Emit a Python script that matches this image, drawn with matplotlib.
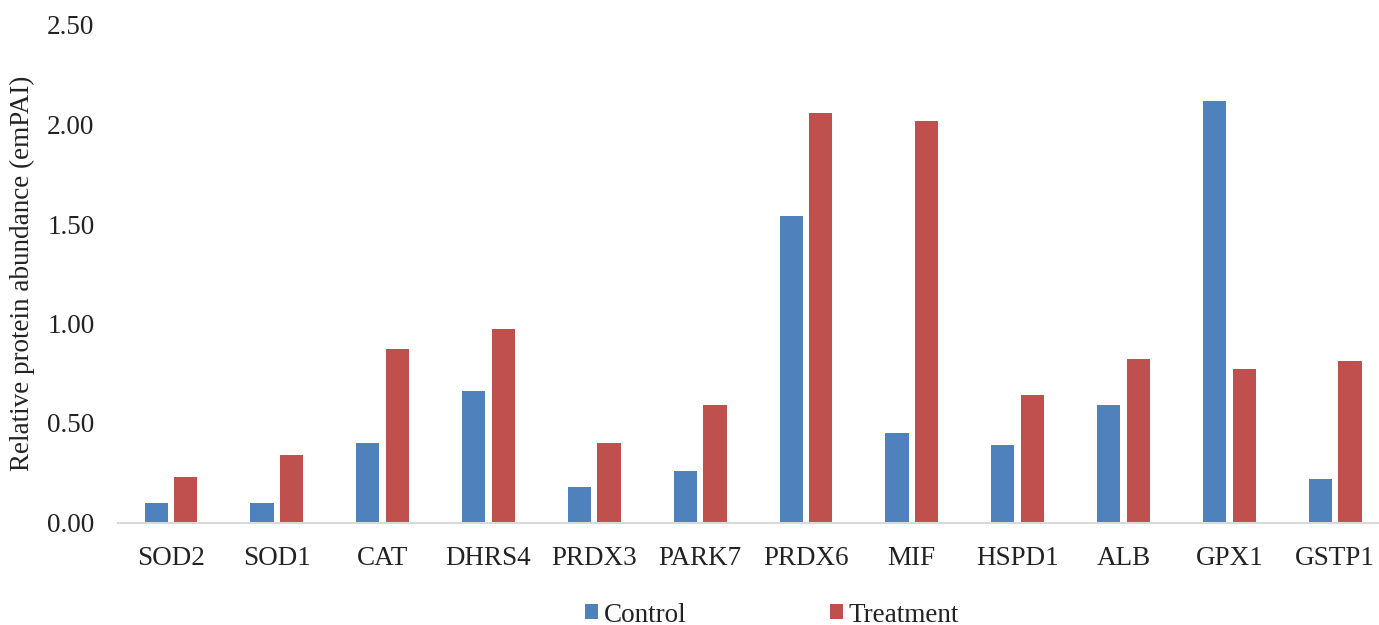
#!/usr/bin/env python3
# grouped bar chart: emPAI abundance, control vs treatment

import numpy as np
import matplotlib
matplotlib.use('Agg')
import matplotlib.pyplot as plt

plt.rcParams['font.family'] = ['Liberation Serif', 'DejaVu Serif']

proteins = ['SOD2', 'SOD1', 'CAT', 'DHRS4', 'PRDX3', 'PARK7',
            'PRDX6', 'MIF', 'HSPD1', 'ALB', 'GPX1', 'GSTP1']
control = [0.10, 0.10, 0.40, 0.66, 0.18, 0.26, 1.54, 0.45, 0.39, 0.59, 2.12, 0.22]
treatment = [0.23, 0.34, 0.87, 0.97, 0.40, 0.59, 2.06, 2.02, 0.64, 0.82, 0.77, 0.81]
yticks = [0.0, 0.5, 1.0, 1.5, 2.0, 2.5]

blue = '#4F81BD'
red = '#C0504D'
fs = 19.5

fig = plt.figure(figsize=(13.79, 6.25), dpi=100)
ax = fig.add_axes([0.0856, 0.164, 0.921, 0.796])

x = np.arange(len(proteins))
w = 0.22
ax.bar(x - 0.14, control, w, color=blue, label='Control', zorder=2)
ax.bar(x + 0.14, treatment, w, color=red, label='Treatment', zorder=2)

ax.set_xlim(-0.5, len(proteins) - 0.5)
ax.set_ylim(0, 2.5)
ax.set_yticks(yticks)
ax.set_yticklabels(['{0:.2f}'.format(v) for v in yticks])
ax.set_xticks(x)
ax.set_xticklabels(proteins)

for s in ['top', 'right', 'left']:
    ax.spines[s].set_visible(False)
ax.spines['bottom'].set_color('#D9D9D9')
ax.spines['bottom'].set_linewidth(1.5)

ax.tick_params(axis='y', length=0, pad=17, labelsize=fs, labelcolor='#222222')
ax.tick_params(axis='x', length=0, pad=17, labelsize=fs, labelcolor='#222222')

ax.set_ylabel('Relative protein abundance (emPAI)', fontsize=fs, color='#222222',
              labelpad=9)

fig.legend(loc='center', bbox_to_anchor=(772 / 1379, 1 - 615 / 625), ncol=2,
           frameon=False, fontsize=fs, handlelength=0.48, handleheight=0.48,
           handletextpad=0.2, columnspacing=5.3, labelcolor='#222222')

fig.savefig('out.png', dpi=100)
